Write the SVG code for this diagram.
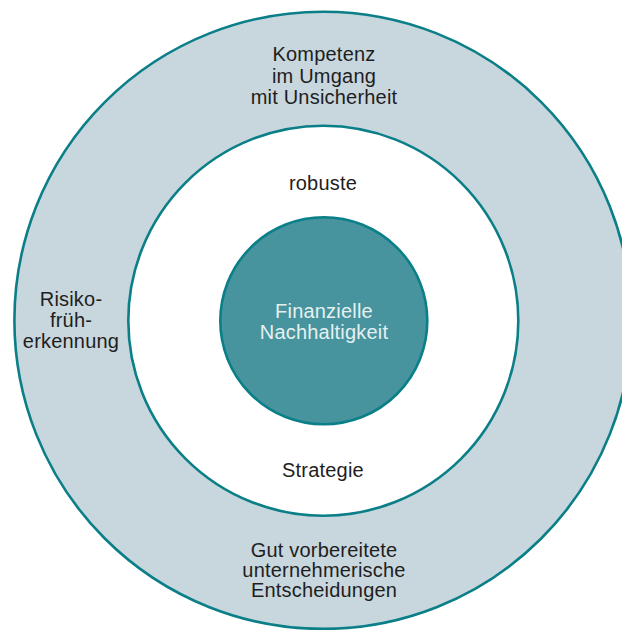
<svg xmlns="http://www.w3.org/2000/svg" width="622" height="630" viewBox="0 0 622 630">
<style>
.ring{stroke:#0a7f87;stroke-width:2.6}
.t{font-family:"Liberation Sans",Arial,sans-serif;font-size:20px;letter-spacing:0.2px;fill:#1e1e1e;text-anchor:middle}
.w{fill:#e6f0f1}
</style>
<rect width="622" height="630" fill="#ffffff"/>
<g id="outer">
<circle class="ring" cx="323" cy="320.3" r="308.6" fill="#c8d6dd"/>
<text class="t" x="324" y="61">Kompetenz</text>
<text class="t" x="324" y="82.5">im Umgang</text>
<text class="t" x="324" y="104">mit Unsicherheit</text>
<text class="t" x="71" y="306">Risiko-</text>
<text class="t" x="71" y="327">früh-</text>
<text class="t" x="71" y="348">erkennung</text>
<text class="t" x="324" y="556.5">Gut vorbereitete</text>
<text class="t" x="324" y="577">unternehmerische</text>
<text class="t" x="324" y="597">Entscheidungen</text>
</g>
<g id="middle">
<circle class="ring" cx="323.3" cy="320.7" r="195" fill="#ffffff"/>
<text class="t" x="323" y="190">robuste</text>
<text class="t" x="323" y="477">Strategie</text>
</g>
<g id="core">
<circle class="ring" cx="323.8" cy="320.8" r="103.5" fill="#47949e"/>
<text class="t w" x="324" y="318">Finanzielle</text>
<text class="t w" x="324" y="338.5">Nachhaltigkeit</text>
</g>
<g id="connectors"/>
</svg>
